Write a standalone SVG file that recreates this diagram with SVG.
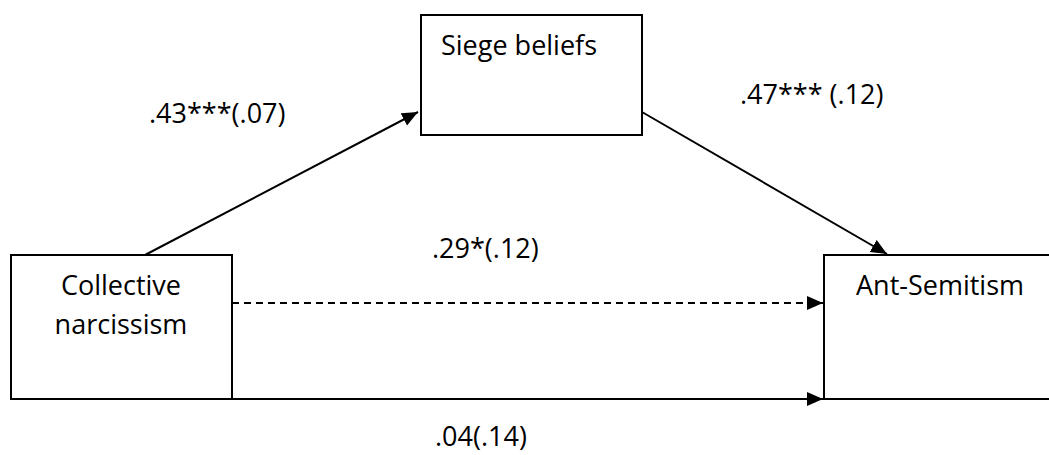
<svg xmlns="http://www.w3.org/2000/svg" width="1049" height="455" viewBox="0 0 1049 455">
<style>
.box{fill:#fff;stroke:#000;stroke-width:2}
.t{font-family:"Open Sans","Liberation Sans",sans-serif;font-size:27px;fill:#000}
.c{stroke:#000;stroke-width:2;fill:none}
</style>
<defs>
<marker id="ah" markerUnits="userSpaceOnUse" markerWidth="17" markerHeight="15" refX="16" refY="7" orient="auto">
<path d="M0,0 L16,7 L0,14 Z" fill="#000"/>
</marker>
</defs>
<rect width="1049" height="455" fill="#fff"/>
<g id="siege">
<rect class="box" x="421" y="15" width="221" height="120"/>
<text class="t" x="441" y="55">Siege beliefs</text>
</g>
<g id="collective">
<rect class="box" x="11" y="255" width="221" height="144"/>
<text class="t" x="121" y="295" text-anchor="middle">Collective</text>
<text class="t" x="121" y="334" text-anchor="middle">narcissism</text>
</g>
<g id="antisemitism">
<rect class="box" x="824" y="255" width="240" height="144"/>
<text class="t" x="856" y="295">Ant-Semitism</text>
</g>
<g id="connectors">
<line class="c" x1="145" y1="255" x2="418" y2="112" marker-end="url(#ah)"/>
<line class="c" x1="642" y1="112" x2="887" y2="254" marker-end="url(#ah)"/>
<line class="c" x1="232" y1="303" x2="823" y2="303" stroke-dasharray="7,5" marker-end="url(#ah)"/>
<line class="c" x1="232" y1="399" x2="823" y2="399" marker-end="url(#ah)"/>
</g>
<g id="labels">
<text class="t" x="149" y="123">.43***(.07)</text>
<text class="t" x="740" y="104">.47*** (.12)</text>
<text class="t" x="432" y="258">.29*(.12)</text>
<text class="t" x="435" y="446">.04(.14)</text>
</g>
</svg>
